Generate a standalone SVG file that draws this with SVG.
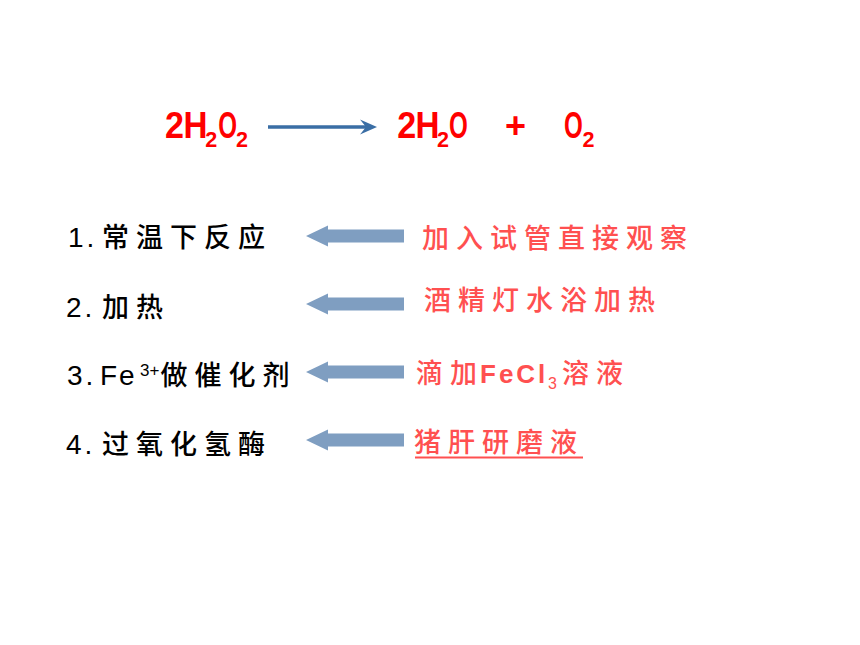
<svg xmlns="http://www.w3.org/2000/svg" width="860" height="645" viewBox="0 0 860 645">
<style>
.eq{font-family:"Liberation Sans",Arial,sans-serif;font-weight:bold;fill:#FF0000;}
.big{font-size:36px;}
.sub{font-size:22px;}
.lat{font-family:"Liberation Sans",Arial,sans-serif;font-size:28px;fill:#000;}
.sup{font-size:17px;}
.cjk{font-family:"Noto Sans CJK SC","Noto Sans CJK JP",sans-serif;font-size:27px;font-weight:500;letter-spacing:7px;}
.blk{fill:#000;}
.red{fill:#FF5050;}
.barrow{fill:#7F9EC1;}
</style>
<rect width="860" height="645" fill="#FFFFFF"/>

<g id="equation">
  <g id="reactant">
    <text class="eq big" x="165" y="138.3" textLength="19" lengthAdjust="spacingAndGlyphs">2</text>
    <text class="eq big" x="183.6" y="138.3" textLength="24" lengthAdjust="spacingAndGlyphs">H</text>
    <text class="eq sub" x="205.3" y="146.7" textLength="12" lengthAdjust="spacingAndGlyphs">2</text>
    <text class="eq big" x="218.2" y="138.3" textLength="18.8" lengthAdjust="spacingAndGlyphs">O</text>
    <text class="eq sub" x="236" y="146.7" textLength="12" lengthAdjust="spacingAndGlyphs">2</text>
  </g>
  <g id="product-water">
    <text class="eq big" x="397.3" y="138.3" textLength="19" lengthAdjust="spacingAndGlyphs">2</text>
    <text class="eq big" x="415.6" y="138.3" textLength="24" lengthAdjust="spacingAndGlyphs">H</text>
    <text class="eq sub" x="437" y="146.7" textLength="12" lengthAdjust="spacingAndGlyphs">2</text>
    <text class="eq big" x="449" y="138.3" textLength="18.8" lengthAdjust="spacingAndGlyphs">O</text>
  </g>
  <g id="plus">
    <text class="eq big" x="505" y="138.3">+</text>
  </g>
  <g id="product-oxygen">
    <text class="eq big" x="564" y="138.3" textLength="18.8" lengthAdjust="spacingAndGlyphs">O</text>
    <text class="eq sub" x="582.6" y="146.7" textLength="12" lengthAdjust="spacingAndGlyphs">2</text>
  </g>
</g>

<g id="left-1">
  <text class="lat" x="68" y="247" letter-spacing="3">1.</text>
  <text class="cjk blk" x="102" y="247">常温下反应</text>
</g>
<g id="left-2">
  <text class="lat" x="66" y="317" letter-spacing="3">2.</text>
  <text class="cjk blk" x="102" y="317">加热</text>
</g>
<g id="left-3">
  <text class="lat" x="67" y="385" letter-spacing="3">3.</text>
  <text class="lat" x="100" y="385" letter-spacing="2">Fe</text>
  <text class="lat sup" x="140" y="376">3+</text>
  <text class="cjk blk" x="160.5" y="385" letter-spacing="6.5">做催化剂</text>
</g>
<g id="left-4">
  <text class="lat" x="66" y="454" letter-spacing="3">4.</text>
  <text class="cjk blk" x="102" y="454" letter-spacing="8">过氧化氢酶</text>
</g>

<g id="right-1">
  <text class="cjk red" x="422" y="248">加入试管直接观察</text>
</g>
<g id="right-2">
  <text class="cjk red" x="424" y="310">酒精灯水浴加热</text>
</g>
<g id="right-3">
  <text class="cjk red" x="416" y="383">滴加</text>
  <text class="red" x="480" y="383" font-family="Liberation Sans, Arial, sans-serif" font-weight="bold" font-size="26" letter-spacing="3">FeCl</text>
  <text class="red" x="548" y="389" font-family="Liberation Sans, Arial, sans-serif" font-size="16">3</text>
  <text class="cjk red" x="562" y="383">溶液</text>
</g>
<g id="right-4">
  <text class="cjk red" x="414" y="452" letter-spacing="8">猪肝研磨液</text>
  <line x1="415" y1="457.5" x2="583" y2="457.5" stroke="#FF5050" stroke-width="2"/>
</g>

<g id="connectors">
  <line x1="268" y1="127" x2="366" y2="127" stroke="#3A6EA5" stroke-width="3.3"/>
  <polygon points="377,127 360,119.5 366,127 360,134.5" fill="#3A6EA5"/>
  <polygon class="barrow" points="306,236 328,225.5 328,229.5 404,229.5 404,242.5 328,242.5 328,246.5"/>
  <polygon class="barrow" points="306,304 328,293.5 328,297.5 404,297.5 404,310.5 328,310.5 328,314.5"/>
  <polygon class="barrow" points="306,372 328,361.5 328,365.5 404,365.5 404,378.5 328,378.5 328,382.5"/>
  <polygon class="barrow" points="306,440 328,429.5 328,433.5 404,433.5 404,446.5 328,446.5 328,450.5"/>
</g>
</svg>
